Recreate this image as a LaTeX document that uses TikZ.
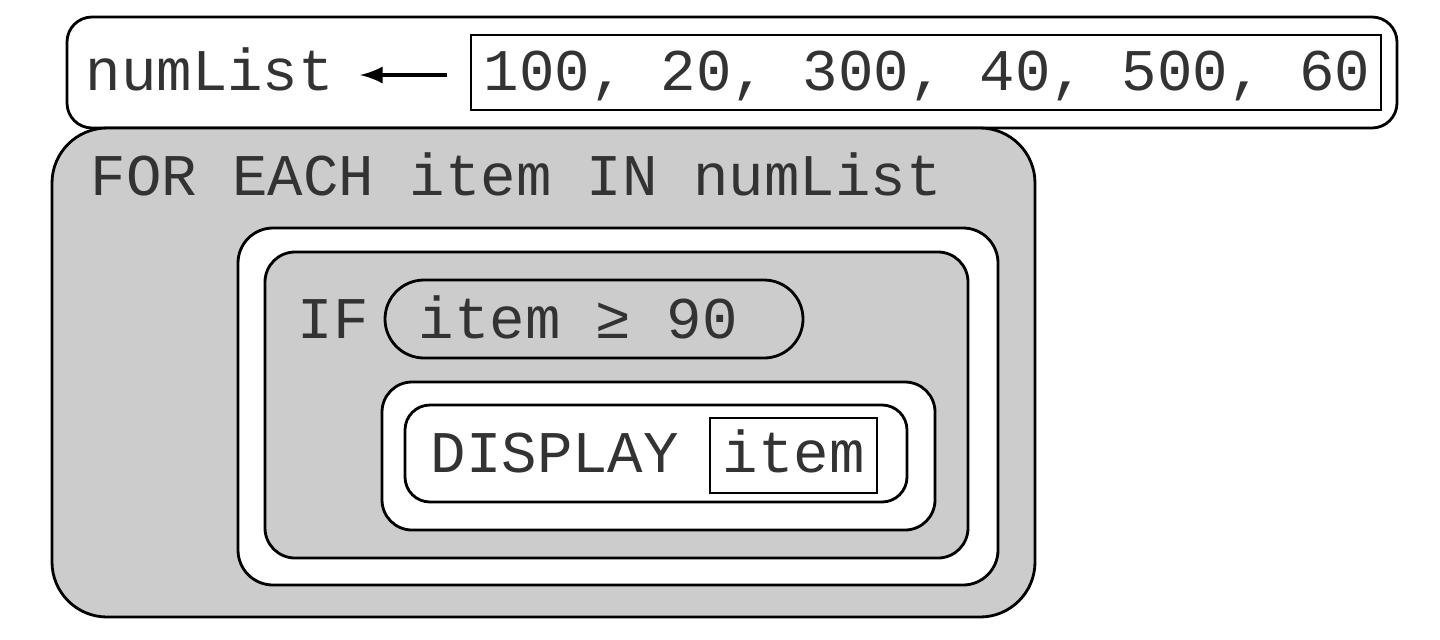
\documentclass[tikz,border=0pt]{standalone}
\usepackage{fontspec}
\setmainfont{Liberation Mono}
\begin{document}
\begin{tikzpicture}[x=0.01cm,y=-0.01cm,
  box/.style={draw=black,line width=0.8pt},
  txt/.style={anchor=base west,inner sep=0pt,text=black!80,font=\fontsize{16.8}{20}\selectfont}]
\useasboundingbox (0,0) rectangle (1440,639);
\definecolor{g}{HTML}{CCCCCC}
\draw[box,fill=white,rounded corners=0.25cm] (67,17) rectangle (1397,128);
\draw[box] (471,35) rectangle (1381,110);
\node[txt] (nl) at (85,90) {numList};
\node[txt] (vals) at (483,90) {100, 20, 300, 40, 500, 60};
\coordinate (a1) at (447,75); \coordinate (a2) at (360,75);
\draw[line width=1.2pt,-latex] (a1) -- (a2);
\draw[box,fill=g,rounded corners=0.55cm] (52,128) rectangle (1035,617);
\node[txt] (fe) at (90,195) {FOR EACH item IN numList};
\draw[box,fill=white,rounded corners=0.35cm] (238,228) rectangle (998,585);
\draw[box,fill=g,rounded corners=0.3cm] (265,252) rectangle (968,558);
\node[txt] (if) at (297,338) {IF};
\draw[box,fill=g,rounded corners=0.39cm] (385,280) rectangle (803,358);
\node[txt] (cond) at (418,338) {item ≥ 90};
\draw[box,fill=white,rounded corners=0.3cm] (382,382) rectangle (935,530);
\draw[box,fill=white,rounded corners=0.25cm] (405,405) rectangle (907,502);
\node[txt] (disp) at (430,472) {DISPLAY};
\draw[box] (710,418) rectangle (877,493);
\node[txt] (it) at (722,472) {item};
\end{tikzpicture}
\end{document}
